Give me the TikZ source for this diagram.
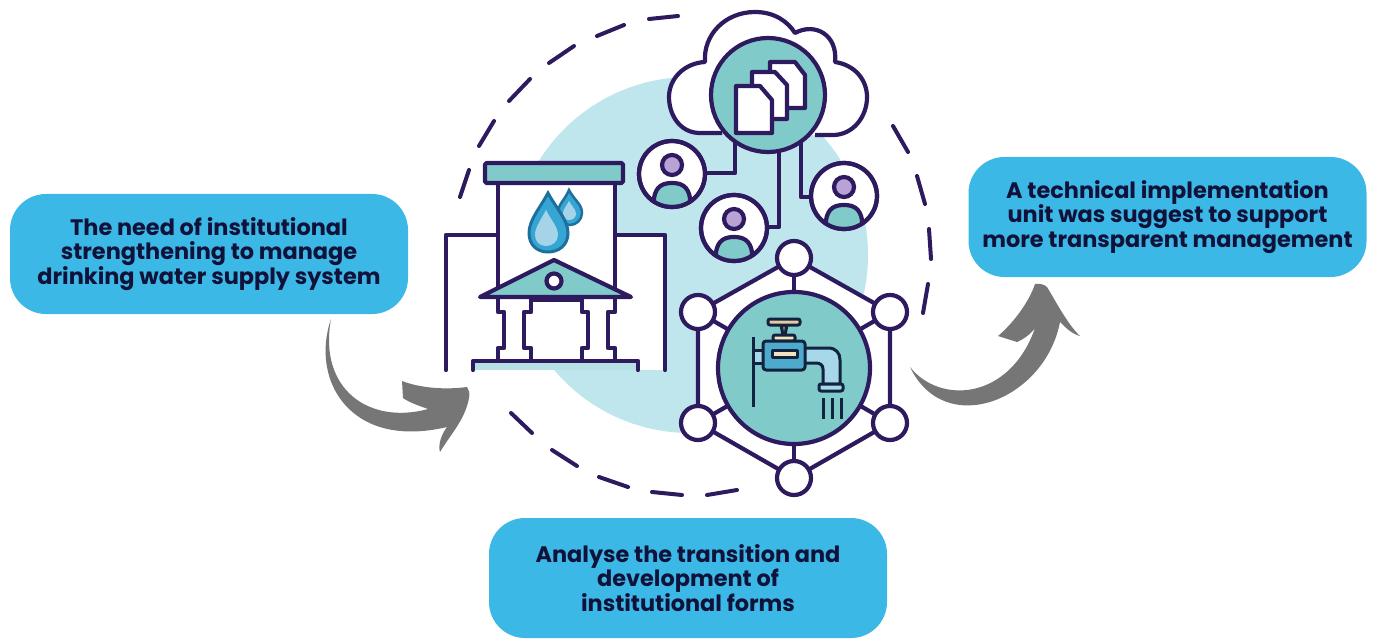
\documentclass[tikz,border=0pt]{standalone}
\usepackage{fontspec}
\setmainfont{Poppins}
\definecolor{ink}{HTML}{2E1A5E}
\definecolor{teal}{HTML}{80CBC9}
\definecolor{pale}{HTML}{BFE6EC}
\definecolor{base}{HTML}{B5E0E4}
\definecolor{boxblue}{HTML}{3CB8E6}
\definecolor{txt}{HTML}{10123A}
\definecolor{lilac}{HTML}{B9A3D6}
\definecolor{arrowgray}{HTML}{767676}
\definecolor{dropout}{HTML}{35A6D3}
\definecolor{dropedge}{HTML}{1F6F9C}
\definecolor{dropin}{HTML}{A5D4E8}
\definecolor{tan}{HTML}{E8C9A0}
\definecolor{tanlite}{HTML}{F3E2BE}
\definecolor{brown}{HTML}{A9794A}
\definecolor{tapblue}{HTML}{4FA9CC}
\definecolor{taplite}{HTML}{A6D8EA}
\definecolor{tapink}{HTML}{12233F}
\tikzset{
  infobox/.style={rectangle,rounded corners=36pt,fill=boxblue,minimum width=398pt,minimum height=120pt,
    align=center,text=txt,font=\fontsize{22.4}{24.5}\selectfont\bfseries,inner sep=0pt},
  ln/.style={draw=ink,line width=4.2pt,line join=round},
  dashpiece/.style={draw=ink,line width=4pt,line cap=round},
  sweep/.style={fill=arrowgray,draw=none},
  tapline/.style={draw=tapink,line width=3pt,line join=round},
  small/.style={ln,fill=white}
}
\newcommand\PersonIcon[1]{%
  \begin{scope}[shift={(#1)}]
    \path[ln,fill=white] (0,0) circle (33);
    \begin{scope}
      \clip (0,0) circle (33);
      \path[ln,fill=teal] (-18,33) -- (-18,24) .. controls (-16,12) and (-9,9) .. (0,9)
        .. controls (9,9) and (16,12) .. (18,24) -- (18,33) -- cycle;
    \end{scope}
    \path[ln,fill=none] (0,0) circle (33);
    \path[ln,fill=lilac] (0,-9) circle (10);
  \end{scope}}
\begin{document}
\begin{tikzpicture}[x=1pt,y=-1pt]
\useasboundingbox (0,0) rectangle (1373,639);
\fill[white] (0,0) rectangle (1373,639);
% boxes
\node[infobox] (left) at (209,254) {The need of institutional\\strengthening to manage\\drinking water supply system};
\node[infobox] (right) at (1167.5,217) {A technical implementation\\unit was suggest to support\\more transparent management};
\node[infobox] (bottom) at (688,578) {Analyse the transition and\\development of\\institutional forms};
% pale disc
\fill[pale] (690,255) circle (178);
% dashed ring
\foreach \a/\b/\c/\d in {678/16/649/19,624/25/597/36,574/46/549/63,530/79/509/101,494/121/479/146,469/170/460/197,
  511/413/532/433,552/450/577/466,599/477/628/487,652/492/682/495,707/495/737/490,
  893/126/908/152,917/176/925/204,929/229/931/259,928/284/923/313}
  \draw[dashpiece] (\a,\b) -- (\c,\d);
% cloud
\path[ln,fill=white] (722,133) -- (700,133) .. controls (680,133) and (669,115) .. (669,97)
  .. controls (669,78) and (685,63) .. (705,62) .. controls (703,35) and (725,12) .. (755,12)
  .. controls (775,12) and (788,22) .. (795,33) .. controls (815,22) and (838,35) .. (835,62)
  .. controls (855,65) and (867,80) .. (867,97) .. controls (867,118) and (852,135) .. (833,135) -- (815,135);
% people connectors
\path[ln] (735,140) -- (735,173) -- (700,173);
\path[ln] (779,150) -- (779,227) -- (760,227);
\path[ln] (801,142) -- (801,197) -- (818,197);
% document circle
\path[ln,fill=teal] (768,95) circle (57);
\path[ln,fill=white] (770,62) -- (795,62) -- (805,75) -- (805,108) -- (770,108) -- cycle;
\path[ln,fill=white] (752,72) -- (775,72) -- (787,85) -- (787,119) -- (752,119) -- cycle;
\path[ln,fill=white] (736,86) -- (760,86) -- (772,100) -- (772,133) -- (736,133) -- cycle;
% people
\PersonIcon{672,174}
\PersonIcon{734,228}
\PersonIcon{844,196}
% building
\fill[white] (446,235) rectangle (665,370);
\path[ln,line cap=round] (446,370) -- (446,235) -- (498,235);
\path[ln,line cap=round] (615,235) -- (665,235) -- (665,370);
\path[ln,fill=white] (498,183) -- (498,300) -- (615,300) -- (615,183);
\path[ln,fill=teal,rounded corners=1.5pt] (485,163) rectangle (623,183);
% drops
\path[draw=dropedge,line width=2.5pt,fill=dropout] (569,190) .. controls (574,200) and (582,204) .. (582,213)
  .. controls (582,220) and (576,225) .. (570,225) .. controls (564,225) and (558,220) .. (558,213) .. controls (558,204) and (565,200) .. (569,190) -- cycle;
\fill[dropin] (569,201) .. controls (572,207) and (576,209) .. (576,214) .. controls (576,218) and (572,220) .. (569,220) .. controls (565,220) and (563,217) .. (563,214) .. controls (563,209) and (566,207) .. (569,201) -- cycle;
\path[draw=dropedge,line width=3pt,fill=dropout] (548,193) .. controls (556,208) and (568,220) .. (568,233)
  .. controls (568,245) and (559,252) .. (548,252) .. controls (537,252) and (529,245) .. (529,233) .. controls (529,220) and (540,208) .. (548,193) -- cycle;
\fill[dropin] (546,210) .. controls (551,220) and (558,227) .. (558,235) .. controls (558,242) and (552,246) .. (546,246) .. controls (540,246) and (535,242) .. (535,235) .. controls (535,227) and (541,220) .. (546,210) -- cycle;
% base and columns
\fill[base] (474,363) rectangle (637,370);
\path[ln,line cap=round] (473,370) -- (473,361) -- (638,361) -- (638,370);
\path[ln,fill=white] (498,298) -- (498,312) -- (504,312) -- (504,348) -- (498,348) -- (498,361) -- (531,361) -- (531,348) -- (524,348) -- (524,312) -- (531,312) -- (531,298);
\path[ln,fill=white] (582,298) -- (582,312) -- (588,312) -- (588,348) -- (582,348) -- (582,361) -- (615,361) -- (615,348) -- (608,348) -- (608,312) -- (615,312) -- (615,298);
\path[ln,fill=teal] (554,260) -- (480,297) -- (631,297) -- cycle;
\path[ln,fill=white] (554,281) circle (7.5);
% network
\path[ln,fill=white] (794,258) -- (890,312) -- (890,423) -- (794,478) -- (698,423) -- (698,312) -- cycle;
\path[ln] (794,258) -- (794,478);
\path[ln] (698,312) -- (890,423);
\path[ln] (890,312) -- (698,423);
\path[ln,fill=teal] (794,368) circle (76);
\foreach \u/\v in {794/258,698/312,890/312,698/423,890/423,794/478}
  \path[small] (\u,\v) circle (17);
% faucet
\fill[taplite] (754,350) rectangle (763,363);
\path[tapline] (755,350) -- (763,350);
\path[tapline] (755,363) -- (763,363);
\path[tapline,fill=taplite] (805,348) -- (828,348) .. controls (836,348) and (840,353) .. (840,360) -- (840,384) -- (823,384) -- (823,369) .. controls (823,365) and (820,363) .. (816,363) -- (805,363);
\path[tapline,fill=brown] (781,325) -- (787,325) -- (785,335) -- (783,335) -- cycle;
\path[tapline,fill=tan,rounded corners=2pt] (768,319) rectangle (800,325);
\path[tapline,fill=tanlite,rounded corners=2pt] (773,335) rectangle (795,341);
\path[tapline,fill=tapblue,rounded corners=3pt] (763,341) rectangle (805,370);
\path[tapline,fill=tanlite] (772,350) rectangle (797,357);
\path[tapline,fill=taplite,rounded corners=2pt] (819,384) rectangle (843,391);
\path[tapline] (753,337) -- (753,407);
\path[tapline] (823,398) -- (823,419);
\path[tapline] (832,398) -- (832,419);
\path[tapline] (841,398) -- (841,419);
% grey arrows
\path[sweep] (331,319) .. controls (310,380) and (350,450) .. (447,427)
  .. controls (441,435) and (438,445) .. (440,452) .. controls (450,435) and (465,420) .. (469,398)
  .. controls (470,393) and (469,390) .. (467,387) .. controls (445,390) and (420,388) .. (402,381)
  -- (403,398) .. controls (410,403) and (420,406) .. (428,409)
  .. controls (370,425) and (318,390) .. (331,319) -- cycle;
\path[sweep] (910,367) .. controls (940,405) and (1010,400) .. (1035,328)
  .. controls (1030,335) and (1022,340) .. (1017,342) -- (998,336)
  .. controls (1010,326) and (1028,305) .. (1035,284) .. controls (1040,283) and (1045,285) .. (1047,287)
  .. controls (1055,300) and (1068,325) .. (1080,336) .. controls (1072,334) and (1066,328) .. (1060,322)
  .. controls (1045,400) and (945,440) .. (910,367) -- cycle;
\end{tikzpicture}
\end{document}
